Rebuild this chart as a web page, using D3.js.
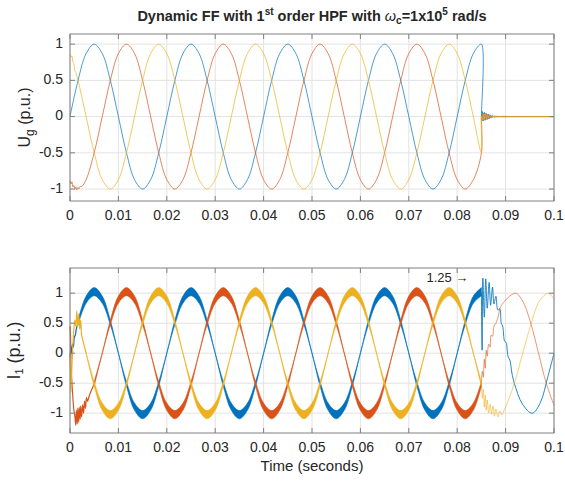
<!DOCTYPE html>
<html>

<head>
    <meta charset='utf-8'>
    <title>Dynamic FF</title>
    <script type='text/javascript' src='https://cdn.jsdelivr.net/npm/d3@7'></script>
    <style>
        body { margin: 0; background: #fff; }
        text { font-family: 'Liberation Sans', Arial, Helvetica, sans-serif; fill: #262626; }
    </style>
</head>

<body>
    <svg width='565' height='481'></svg>
    <script type='text/javascript'>

        // sample instants of the steady part: every 30 degrees of a 50 Hz wave, up to 0.085 s
        const tStep = 1 / 600
        const tSteady = d3.range(52).map(k => k * tStep)

        // steady three-phase values (p.u.) read at those instants
        const phaseA = [0, 0.5, 0.87, 1, 0.87, 0.5, 0, -0.5, -0.87, -1, -0.87, -0.5,
            0, 0.5, 0.87, 1, 0.87, 0.5, 0, -0.5, -0.87, -1, -0.87, -0.5,
            0, 0.5, 0.87, 1, 0.87, 0.5, 0, -0.5, -0.87, -1, -0.87, -0.5,
            0, 0.5, 0.87, 1, 0.87, 0.5, 0, -0.5, -0.87, -1, -0.87, -0.5,
            0, 0.5, 0.87, 1]
        const phaseB = [-0.87, -1, -0.87, -0.5, 0, 0.5, 0.87, 1, 0.87, 0.5, 0, -0.5,
            -0.87, -1, -0.87, -0.5, 0, 0.5, 0.87, 1, 0.87, 0.5, 0, -0.5,
            -0.87, -1, -0.87, -0.5, 0, 0.5, 0.87, 1, 0.87, 0.5, 0, -0.5,
            -0.87, -1, -0.87, -0.5, 0, 0.5, 0.87, 1, 0.87, 0.5, 0, -0.5,
            -0.87, -1, -0.87, -0.5]
        const phaseC = [0.87, 0.5, 0, -0.5, -0.87, -1, -0.87, -0.5, 0, 0.5, 0.87, 1,
            0.87, 0.5, 0, -0.5, -0.87, -1, -0.87, -0.5, 0, 0.5, 0.87, 1,
            0.87, 0.5, 0, -0.5, -0.87, -1, -0.87, -0.5, 0, 0.5, 0.87, 1,
            0.87, 0.5, 0, -0.5, -0.87, -1, -0.87, -0.5, 0, 0.5, 0.87, 1,
            0.87, 0.5, 0, -0.5]

        // Ug: start-up noise and post-fault ringing, [t, value]
        const ugStartB = [[0, -0.88], [0.0002, -0.93], [0.0004, -0.9], [0.0006, -0.97], [0.0008, -0.95],
            [0.001, -1.0], [0.0012, -0.97], [0.0014, -1.01], [0.0016, -0.98], [0.0018, -1.0], [0.002, -0.97], [0.0025, -0.96]]
        const ugStartC = [[0, 0.86], [0.0002, 0.82], [0.0004, 0.84], [0.0006, 0.76], [0.0008, 0.73],
            [0.001, 0.63], [0.0012, 0.61]]
        const ugPostA = [[0.08502, 0], [0.0852, 0.07], [0.0854, -0.06], [0.0856, 0.06], [0.0858, -0.05], [0.086, 0.045],
            [0.0862, -0.04], [0.0864, 0.035], [0.0866, -0.03], [0.0868, 0.025], [0.087, -0.02], [0.0873, 0.015],
            [0.0876, -0.01], [0.088, 0.007], [0.0885, -0.004], [0.089, 0.002], [0.092, 0], [0.1, 0]]
        const ugPostB = [[0.08502, 0], [0.0852, -0.06], [0.0854, 0.05], [0.0856, -0.05], [0.0858, 0.045], [0.086, -0.04],
            [0.0862, 0.035], [0.0864, -0.03], [0.0866, 0.025], [0.0868, -0.02], [0.087, 0.015], [0.0873, -0.012],
            [0.0876, 0.008], [0.088, -0.005], [0.0885, 0.003], [0.089, -0.002], [0.092, 0], [0.1, 0]]
        const ugPostC = [[0.08502, 0], [0.0853, -0.05], [0.0855, 0.04], [0.0857, -0.04], [0.0859, 0.035], [0.0861, -0.03],
            [0.0863, 0.025], [0.0865, -0.02], [0.0867, 0.018], [0.087, -0.012], [0.0874, 0.008], [0.0878, -0.005],
            [0.0883, 0.003], [0.089, -0.001], [0.092, 0], [0.1, 0]]

        // I1: start-up transients, [t, value]
        const iStartA = [[0, 0], [0.0001, -0.1], [0.0002, 0.1], [0.0003, 0.0], [0.0005, 0.15], [0.0007, 0.1],
            [0.0009, 0.27], [0.0011, 0.3], [0.0013, 0.4]]
        const iStartB = [[0, 0.45], [0.0001, 0.3], [0.0002, -0.2], [0.0004, -0.5], [0.0006, -0.75], [0.0008, -0.95],
            [0.001, -1.05], [0.0012, -1.2], [0.0013, -0.95], [0.0015, -1.18], [0.0016, -0.92], [0.0018, -1.15],
            [0.0019, -0.9], [0.0021, -1.1], [0.0022, -0.88], [0.0024, -1.06], [0.0026, -0.86], [0.0028, -1.0],
            [0.003, -0.8], [0.0032, -0.92], [0.0034, -0.74], [0.0036, -0.8], [0.0041, -0.68]]
        const iStartC = [[0, 0], [0.0001, -0.3], [0.0002, -0.65], [0.0004, -0.2], [0.0006, 0.15], [0.0008, 0.4],
            [0.001, 0.55], [0.0012, 0.45], [0.0014, 0.7], [0.0016, 0.45], [0.0018, 0.65], [0.002, 0.4],
            [0.0022, 0.55], [0.0024, 0.3], [0.0027, 0.2]]

        // I1: after the fault at 0.085 s, [t, value]
        const iPostA = [[0.085, 1.0], [0.08515, 0.05], [0.0853, 1.25], [0.0856, 0.6], [0.0859, 1.24], [0.0862, 0.75],
            [0.0866, 1.18], [0.0869, 0.8], [0.0873, 1.1], [0.0876, 0.82], [0.088, 0.95], [0.0884, 0.72],
            [0.0888, 0.74], [0.0891, 0.5], [0.0894, 0.45], [0.0898, 0.2], [0.0901, 0.18], [0.0905, -0.05],
            [0.0909, -0.12], [0.0913, -0.33], [0.0918, -0.5], [0.0935, -0.85], [0.0955, -1.0], [0.0972, -0.82],
            [0.0987, -0.4], [0.1, 0]]
        const iPostB = [[0.085, -0.5], [0.0852, -0.3], [0.0854, -0.4], [0.0856, -0.1], [0.0858, -0.25], [0.086, 0.05],
            [0.0862, -0.05], [0.0865, 0.15], [0.0868, 0.1], [0.087, 0.3], [0.0873, 0.28], [0.0876, 0.45],
            [0.088, 0.5], [0.0885, 0.62], [0.089, 0.78], [0.092, 1.0], [0.0935, 0.87], [0.0952, 0.5],
            [0.0968, 0], [0.0984, -0.5], [0.1, -0.87]]
        const iPostC = [[0.085, -0.5], [0.0852, -0.75], [0.0854, -0.6], [0.0856, -0.9], [0.0858, -0.7], [0.086, -0.95],
            [0.0862, -0.78], [0.0865, -1.0], [0.0868, -0.85], [0.0871, -1.02], [0.0874, -0.88], [0.0877, -1.05],
            [0.088, -0.93], [0.0884, -1.06], [0.0888, -0.96], [0.0892, -1.03], [0.0897, -0.95], [0.0905, -0.8],
            [0.092, -0.45], [0.0937, 0.05], [0.0953, 0.5], [0.097, 0.87], [0.0988, 1.0], [0.1, 0.9]]

        // ripple band of the current before the fault
        const rippleHalf = 0.06
        const rippleGain = 1.025

        const xTicks = [0, 0.01, 0.02, 0.03, 0.04, 0.05, 0.06, 0.07, 0.08, 0.09, 0.1]
        const xTickLabels = ['0', '0.01', '0.02', '0.03', '0.04', '0.05', '0.06', '0.07', '0.08', '0.09', '0.1']
        const yTicks = [-1, -0.5, 0, 0.5, 1]
        const yTickLabels = ['-1', '-0.5', '0', '0.5', '1']

        const colors = ['#0072BD', '#D95319', '#EDB120']

        const svg = d3.select('svg')

        const x = d3.scaleLinear().domain([0, 0.1]).range([70, 554])
        const yTop = d3.scaleLinear().domain([-1.165, 1.14]).range([201, 34])
        const yBot = d3.scaleLinear().domain([-1.33, 1.42]).range([433, 268])

        function panel(y) {
            const g = svg.append('g')
            const [y0, y1] = y.range()
            g.selectAll('.gx').data(xTicks).enter().append('line')
                .attr('x1', d => x(d)).attr('x2', d => x(d)).attr('y1', y0).attr('y2', y1)
                .attr('stroke', '#e3e3e3')
            g.selectAll('.gy').data(yTicks).enter().append('line')
                .attr('x1', 70).attr('x2', 554).attr('y1', d => y(d)).attr('y2', d => y(d))
                .attr('stroke', '#e3e3e3')
            return g
        }

        function frame(y) {
            const g = svg.append('g')
            const [y0, y1] = y.range()
            g.append('rect').attr('x', 70).attr('y', y1).attr('width', 484).attr('height', y0 - y1)
                .attr('fill', 'none').attr('stroke', '#808080')
            // ticks on all four sides, pointing in
            xTicks.forEach(d => {
                g.append('line').attr('x1', x(d)).attr('x2', x(d)).attr('y1', y0).attr('y2', y0 - 5).attr('stroke', '#808080')
                g.append('line').attr('x1', x(d)).attr('x2', x(d)).attr('y1', y1).attr('y2', y1 + 5).attr('stroke', '#808080')
            })
            yTicks.forEach(d => {
                g.append('line').attr('x1', 70).attr('x2', 75).attr('y1', y(d)).attr('y2', y(d)).attr('stroke', '#808080')
                g.append('line').attr('x1', 549).attr('x2', 554).attr('y1', y(d)).attr('y2', y(d)).attr('stroke', '#808080')
            })
            g.selectAll('.xl').data(xTicks).enter().append('text')
                .attr('x', d => x(d)).attr('y', y0 + 15).attr('text-anchor', 'middle')
                .attr('dominant-baseline', 'middle').attr('font-size', 14)
                .text((d, i) => xTickLabels[i])
            g.selectAll('.yl').data(yTicks).enter().append('text')
                .attr('x', 63).attr('y', d => y(d)).attr('text-anchor', 'end')
                .attr('dominant-baseline', 'middle').attr('font-size', 14)
                .text((d, i) => yTickLabels[i])
        }

        const line = (y) => d3.line().x(d => x(d[0])).y(d => y(d[1])).curve(d3.curveCatmullRom.alpha(0.5))
        const steady = (vals, from) => tSteady.map((t, i) => [t, vals[i]]).slice(from)

        // ---------- top panel: grid voltage ----------
        panel(yTop)
        const topLines = [
            steady(phaseA, 0).concat(ugPostA),
            ugStartB.concat(steady(phaseB, 2)).concat(ugPostB),
            ugStartC.concat(steady(phaseC, 1)).concat(ugPostC)
        ]
        svg.append('g').selectAll('path').data(topLines).enter().append('path')
            .attr('d', d => line(yTop)(d))
            .attr('fill', 'none')
            .attr('stroke', (d, i) => colors[i])
            .attr('stroke-opacity', 0.7)
            .attr('stroke-width', 1)
        frame(yTop)

        // ---------- bottom panel: current ----------
        panel(yBot)
        const waves = [phaseA, phaseB, phaseC]
        const firstSteady = [1, 3, 2]
        const starts = [iStartA, iStartB, iStartC]
        const posts = [iPostA, iPostB, iPostC]

        const band = d3.area()
            .x(d => x(d[0]))
            .y0(d => yBot(d[1] * rippleGain - rippleHalf * Math.abs(d[1]) - 0.008))
            .y1(d => yBot(d[1] * rippleGain + rippleHalf * Math.abs(d[1]) + 0.008))
            .curve(d3.curveCatmullRom.alpha(0.5))

        const bot = svg.append('g')
        // thin post-fault lines go underneath
        posts.forEach((p, i) => {
            bot.append('path').attr('d', line(yBot)(p))
                .attr('fill', 'none').attr('stroke', colors[i])
                .attr('stroke-opacity', i === 0 ? 0.85 : 0.6).attr('stroke-width', 1)
        })
        waves.forEach((w, i) => {
            const pts = steady(w, firstSteady[i])
            const s = starts[i].concat([[pts[0][0], pts[0][1] * rippleGain]])
            bot.append('path').attr('d', line(yBot)(s))
                .attr('fill', 'none').attr('stroke', colors[i]).attr('stroke-width', 1.2)
            bot.append('path').attr('d', band(pts))
                .attr('fill', colors[i]).attr('stroke', colors[i]).attr('stroke-width', 0.6)
        })
        frame(yBot)

        bot.append('text')
            .attr('x', x(0.0823)).attr('y', yBot(1.25))
            .attr('text-anchor', 'end').attr('dominant-baseline', 'middle')
            .attr('font-size', 13)
            .text('1.25 →')

        // ---------- titles and labels ----------
        const title = svg.append('text')
            .attr('x', 312).attr('y', 17).attr('text-anchor', 'middle')
            .attr('dominant-baseline', 'middle')
            .attr('font-size', 14.5).attr('font-weight', 'bold')
        title.append('tspan').text('Dynamic FF with 1')
        title.append('tspan').attr('font-size', 10).attr('dy', -5).text('st')
        title.append('tspan').attr('dy', 5).text(' order HPF with ')
        title.append('tspan').attr('font-style', 'italic').attr('font-weight', 'normal').text('ω')
        title.append('tspan').attr('font-size', 10).attr('dy', 4).text('c')
        title.append('tspan').attr('dy', -4).text('=1x10')
        title.append('tspan').attr('font-size', 10).attr('dy', -5).text('5')
        title.append('tspan').attr('dy', 5).text(' rad/s')

        const ug = svg.append('text')
            .attr('transform', `translate(30,${(34 + 201) / 2}) rotate(-90)`)
            .attr('text-anchor', 'middle').attr('font-size', 16)
        ug.append('tspan').text('U')
        ug.append('tspan').attr('font-size', 12).attr('dy', 4).text('g')
        ug.append('tspan').attr('dy', -4).text(' (p.u.)')

        const i1 = svg.append('text')
            .attr('transform', `translate(20,${(268 + 433) / 2}) rotate(-90)`)
            .attr('text-anchor', 'middle').attr('font-size', 18)
        i1.append('tspan').text('I')
        i1.append('tspan').attr('font-size', 11).attr('dy', 3).text('1')
        i1.append('tspan').attr('dy', -3).text(' (p.u.)')

        svg.append('text')
            .attr('x', 312).attr('y', 467).attr('text-anchor', 'middle')
            .attr('dominant-baseline', 'middle').attr('font-size', 15)
            .text('Time (seconds)')
    </script>
</body>

</html>
